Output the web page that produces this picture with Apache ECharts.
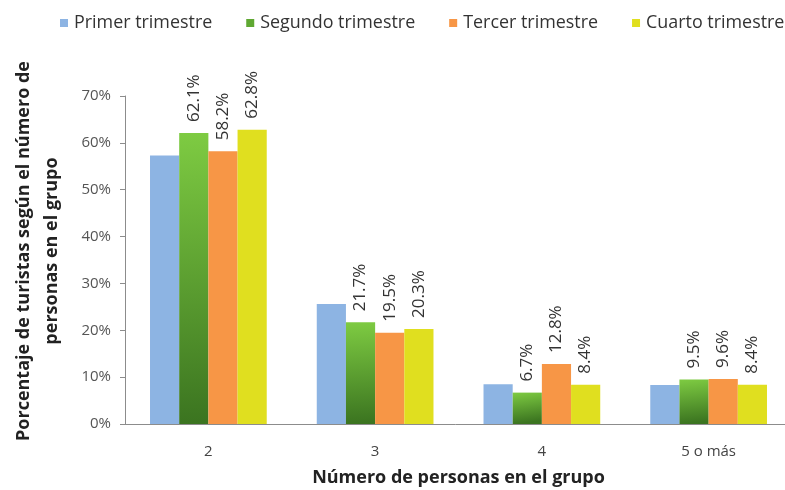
<!DOCTYPE html>
<html>
<head>
<meta charset="utf-8">
<script src="https://cdn.jsdelivr.net/npm/echarts@6/dist/echarts.min.js"></script>
<style>
html,body{margin:0;padding:0;background:#fff;}
#chart{width:785px;height:490px;}
</style>
</head>
<body>
<div id="chart"></div>
<script>
// Group sizes and quarterly shares (%) of tourists
const categories = ['2', '3', '4', '5 o más'];
const seriesNames = ['Primer trimestre', 'Segundo trimestre', 'Tercer trimestre', 'Cuarto trimestre'];
const primer = [57.3, 25.6, 8.5, 8.3];
const segundo = [62.1, 21.7, 6.7, 9.5];
const tercer = [58.2, 19.5, 12.8, 9.6];
const cuarto = [62.8, 20.3, 8.4, 8.4];
const yTicks = [0, 10, 20, 30, 40, 50, 60, 70];

const font = 'Open Sans';
const green = {
  type: 'linear', x: 0, y: 0, x2: 0.15, y2: 1,
  colorStops: [{ offset: 0, color: '#7ecb42' }, { offset: 1, color: '#3b7420' }]
};
const colors = ['#8db4e3', green, '#f79646', '#e0df1f'];
const legendColors = ['#8db4e3', '#5fa832', '#f79646', '#e0df1f'];

const valueLabel = {
  show: true, position: 'top', rotate: 90, align: 'left', verticalAlign: 'middle',
  distance: 11, fontFamily: font, fontSize: 17, color: '#333',
  formatter: p => p.value.toFixed(1) + '%'
};

const data = [primer, segundo, tercer, cuarto];
const series = data.map((vals, i) => ({
  name: seriesNames[i],
  type: 'bar',
  data: vals,
  barGap: '0%',
  barCategoryGap: '30%',
  itemStyle: { color: colors[i] },
  label: i === 0 ? { show: false } : valueLabel
}));

const chart = echarts.init(document.getElementById('chart'), null, { renderer: 'canvas' });
chart.setOption({
  animation: false,
  color: legendColors,
  legend: {
    top: 14, left: 60, width: 800, padding: 0,
    itemWidth: 8, itemHeight: 8, itemGap: 34,
    icon: 'rect',
    textStyle: { fontFamily: font, fontSize: 17.9, color: '#333', padding: [0, 0, 0, 1] },
    data: seriesNames.map((n, i) => ({ name: n, itemStyle: { color: legendColors[i] } }))
  },
  grid: { left: 125, top: 96, width: 667, height: 328, outerBoundsMode: 'none', containLabel: false },
  xAxis: {
    type: 'category',
    data: categories,
    name: 'Número de personas en el grupo',
    nameLocation: 'middle',
    nameGap: 45,
    nameTextStyle: { fontFamily: font, fontSize: 18, fontWeight: 'bold', color: '#222' },
    axisLine: { lineStyle: { color: '#8c8c8c' } },
    axisTick: { show: false },
    axisLabel: { fontFamily: font, fontSize: 15, color: '#444', margin: 20 }
  },
  yAxis: {
    type: 'value',
    min: yTicks[0], max: yTicks[yTicks.length - 1], interval: 10,
    name: 'Porcentaje de turistas según el número de\npersonas en el grupo',
    nameLocation: 'middle',
    nameRotate: 90,
    nameGap: 59,
    nameTextStyle: { fontFamily: font, fontSize: 18, fontWeight: 'bold', color: '#222', lineHeight: 28, padding: [0, 0, 0, 18] },
    axisLine: { show: true, lineStyle: { color: '#8c8c8c' } },
    axisTick: { show: true, length: 5, lineStyle: { color: '#8c8c8c' } },
    splitLine: { show: false },
    axisLabel: { fontFamily: font, fontSize: 15, color: '#555', margin: 14, formatter: '{value}%' }
  },
  series: series
});
</script>
</body>
</html>
